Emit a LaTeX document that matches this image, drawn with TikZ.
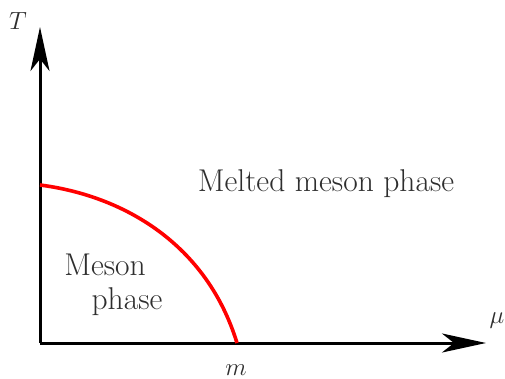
\documentclass[tikz,border=0pt]{standalone}
\usetikzlibrary{arrows.meta}
\begin{document}
\begin{tikzpicture}[x=1pt,y=-1pt,
  axis/.style={line width=3pt,-{Stealth[length=44pt,width=19pt,inset=12pt]}},
  lbl/.style={text=black!82,font=\fontsize{31.5}{38}\selectfont,inner sep=0pt},
  boundary/.style={red,line width=3.6pt}]
\useasboundingbox (0,0) rectangle (505,379);
\coordinate (O) at (40,343);
\coordinate (Ttip) at (40,27);
\coordinate (Mtip) at (486,343);
\draw[axis] (O) -- (Ttip);
\draw[axis] (O) -- (Mtip);
\coordinate (c0) at (40,185);
\coordinate (c1) at (237,343);
\draw[boundary] (c0) .. controls (125,196) and (207,245) .. (c1);
\node[lbl] (T) at (18,21) {$T$};
\node[lbl] (mu) at (497,321) {$\mu$};
\node[lbl] (m) at (236,370) {$m$};
\node[lbl] (melt) at (326,184) {Melted meson phase};
\node[lbl] (mes) at (105,265) {Meson};
\node[lbl] (ph) at (127,302) {phase};
\end{tikzpicture}
\end{document}
